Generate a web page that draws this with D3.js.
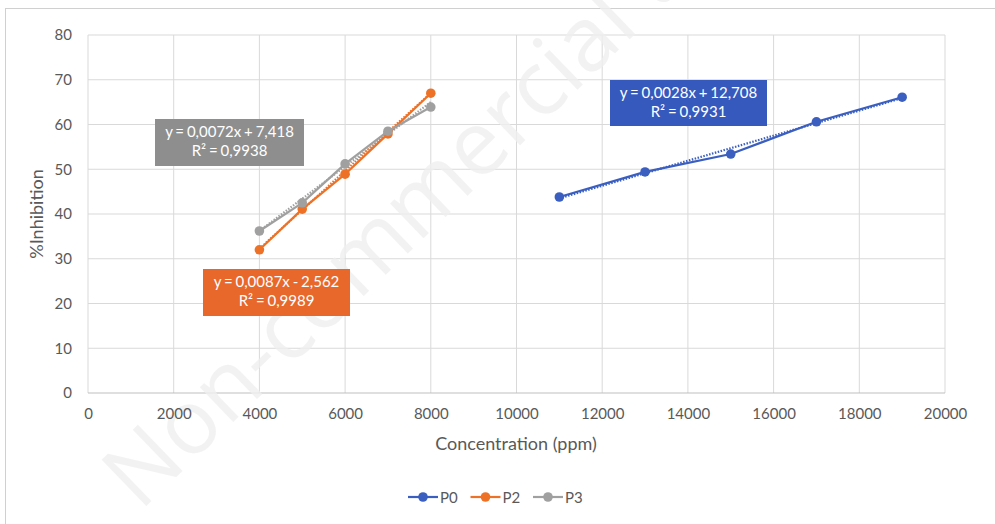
<!DOCTYPE html>
<html>
<head>
<meta charset="utf-8">
<script src="https://cdn.jsdelivr.net/npm/d3@7"></script>
<style>
  body { margin: 0; background: #fff; }
  svg { font-family: "Lato", "Open Sans", sans-serif; }
</style>
</head>
<body>
<section></section>
<script>
//Chart data
const concP0 = [11000, 13000, 15000, 17000, 19000];
const inhibP0 = [43.8, 49.4, 53.4, 60.6, 66.1];
const concP2 = [4000, 5000, 6000, 7000, 8000];
const inhibP2 = [32.0, 41.1, 48.9, 57.9, 67.0];
const concP3 = [4000, 5000, 6000, 7000, 8000];
const inhibP3 = [36.2, 42.5, 51.2, 58.5, 63.9];

//Trendline coefficients (slope, intercept) and their labels
const trendSlope = [0.0028, 0.0087, 0.0072];
const trendIntercept = [12.708, -2.562, 7.418];
const trendLabels = [
  ["y = 0,0028x + 12,708", "R² = 0,9931"],
  ["y = 0,0087x - 2,562", "R² = 0,9989"],
  ["y = 0,0072x + 7,418", "R² = 0,9938"],
];

const seriesNames = ["P0", "P2", "P3"];
const xTicks = [0, 2000, 4000, 6000, 8000, 10000, 12000, 14000, 16000, 18000, 20000];
const yTicks = [0, 10, 20, 30, 40, 50, 60, 70, 80];

const w = 995;
const h = 524;
const margin = { top: 35, bottom: 131, left: 88, right: 50 };
const innerWidth = w - margin.left - margin.right;
const innerHeight = h - margin.top - margin.bottom;

const colors = ["#3a5fc0", "#ed7228", "#a0a0a0"];
const boxColors = ["#3559bd", "#e8672a", "#8e8e8e"];

const svg = d3.select("section").append("svg").attr("width", w).attr("height", h);

//Chart border
svg.append("rect")
  .attr("x", 5.5).attr("y", 8.5)
  .attr("width", w - 4).attr("height", h - 4)
  .attr("fill", "none").attr("stroke", "#d0d0d0");

//Layers: grid, then watermark, then everything else
const gridG = svg.append("g").attr("transform", `translate(${margin.left}, ${margin.top})`);
const markG = svg.append("g");
const container = svg.append("g").attr("transform", `translate(${margin.left}, ${margin.top})`);

const xScale = d3.scaleLinear().domain([0, 20000]).range([0, innerWidth]);
const yScale = d3.scaleLinear().domain([0, 80]).range([innerHeight, 0]);

//Grid lines
gridG.append("g")
  .selectAll("line")
  .data(xTicks)
  .enter()
  .append("line")
  .attr("x1", (d) => xScale(d)).attr("x2", (d) => xScale(d))
  .attr("y1", 0).attr("y2", innerHeight)
  .attr("stroke", "#d9d9d9");

gridG.append("g")
  .selectAll("line")
  .data(yTicks)
  .enter()
  .append("line")
  .attr("x1", 0).attr("x2", innerWidth)
  .attr("y1", (d) => yScale(d)).attr("y2", (d) => yScale(d))
  .attr("stroke", (d) => (d === 0 ? "#bfbfbf" : "#d9d9d9"));

//Watermark
markG.append("text")
  .attr("transform", "translate(140, 512) rotate(-44)")
  .attr("fill", "#efefef")
  .attr("fill-opacity", 0.8)
  .style("font-family", "'Open Sans', sans-serif")
  .style("font-weight", 400)
  .style("font-size", "90px")
  .text("Non-commercial u");

//Axes
const xAxis = d3.axisBottom(xScale).tickValues(xTicks).tickSize(0).tickPadding(15).tickFormat(d3.format("d"));
const yAxis = d3.axisLeft(yScale).tickValues(yTicks).tickSize(0).tickPadding(16);

const styleTicks = (g) =>
  g.selectAll("text").attr("fill", "#595959").style("font-size", "15px").style("font-family", "Lato");

container.append("g")
  .attr("transform", `translate(0, ${innerHeight})`)
  .call(xAxis)
  .call((g) => g.select(".domain").remove())
  .call(styleTicks);

container.append("g")
  .call(yAxis)
  .call((g) => g.select(".domain").remove())
  .call(styleTicks);

//Axis titles
svg.append("text")
  .attr("x", 516).attr("y", 450)
  .attr("text-anchor", "middle")
  .attr("fill", "#595959")
  .style("font-size", "18px")
  .text("Concentration (ppm)");

svg.append("text")
  .attr("transform", "translate(43, 214) rotate(-90)")
  .attr("text-anchor", "middle")
  .attr("fill", "#595959")
  .style("font-size", "18px")
  .text("%Inhibition");

//Series
const series = [
  concP0.map((x, i) => ({ x, y: inhibP0[i] })),
  concP2.map((x, i) => ({ x, y: inhibP2[i] })),
  concP3.map((x, i) => ({ x, y: inhibP3[i] })),
];

const line = d3.line().x((d) => xScale(d.x)).y((d) => yScale(d.y));

//Dotted trendlines
series.forEach((s, i) => {
  const x0 = d3.min(s, (d) => d.x);
  const x1 = d3.max(s, (d) => d.x);
  const pts = [x0, x1].map((x) => ({ x, y: trendSlope[i] * x + trendIntercept[i] }));
  container.append("path")
    .attr("d", line(pts))
    .attr("fill", "none")
    .attr("stroke", colors[i])
    .attr("stroke-width", 2.2)
    .attr("stroke-dasharray", "1.5 1.5");
});

series.forEach((s, i) => {
  container.append("path")
    .attr("d", line(s))
    .attr("fill", "none")
    .attr("stroke", colors[i])
    .attr("stroke-width", 2.2);
  container.append("g")
    .selectAll("circle")
    .data(s)
    .enter()
    .append("circle")
    .attr("cx", (d) => xScale(d.x))
    .attr("cy", (d) => yScale(d.y))
    .attr("r", 4.8)
    .attr("fill", colors[i]);
});

//Trendline label boxes
const labelBoxes = [
  { x: 610, y: 80, w: 157, h: 46 },
  { x: 203, y: 269, w: 147, h: 47 },
  { x: 155, y: 119, w: 149, h: 47 },
];

labelBoxes.forEach((b, i) => {
  const g = svg.append("g").attr("transform", `translate(${b.x}, ${b.y})`);
  g.append("rect").attr("width", b.w).attr("height", b.h).attr("fill", boxColors[i]);
  trendLabels[i].forEach((t, j) => {
    g.append("text")
      .attr("x", b.w / 2)
      .attr("y", 18 + j * 19)
      .attr("text-anchor", "middle")
      .attr("fill", "#fff")
      .style("font-size", "15px")
      .style("word-spacing", "-1px")
      .text(t);
  });
});

//Legend
const legend = svg.append("g").attr("transform", "translate(408, 497)");
seriesNames.forEach((name, i) => {
  const g = legend.append("g").attr("transform", `translate(${i * 62.5}, 0)`);
  g.append("line").attr("x1", 0).attr("x2", 30).attr("y1", 0).attr("y2", 0)
    .attr("stroke", colors[i]).attr("stroke-width", 2.2);
  g.append("circle").attr("cx", 15).attr("cy", 0).attr("r", 4.8).attr("fill", colors[i]);
  g.append("text").attr("x", 32).attr("y", 5.5)
    .attr("fill", "#595959").style("font-size", "15px").text(name);
});
</script>
</body>
</html>
